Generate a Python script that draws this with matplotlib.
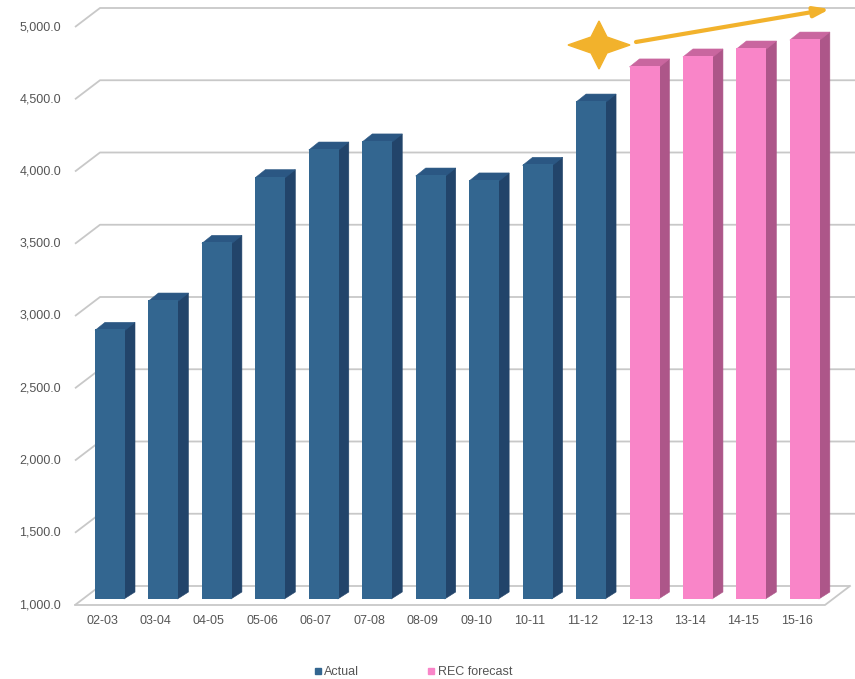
import matplotlib
matplotlib.use("Agg")
import matplotlib.pyplot as plt
from matplotlib.patches import Polygon
from matplotlib.lines import Line2D

plt.rcParams["font.family"] = ["Liberation Sans", "DejaVu Sans"]

# ---- data ----
years = ["02-03", "03-04", "04-05", "05-06", "06-07", "07-08", "08-09",
         "09-10", "10-11", "11-12", "12-13", "13-14", "14-15", "15-16"]
actual = [2866, 3069, 3468, 3923, 4114, 4170, 3934, 3900, 4008, 4446]
forecast = [4689, 4758, 4813, 4875]
yticks = [1000, 1500, 2000, 2500, 3000, 3500, 4000, 4500, 5000]

blue = ("#336690", "#22446a", "#2b5783")   # front, side, top
pink = ("#f985c8", "#ad5689", "#c9669f")

# ---- pixel geometry of the fake 3D look ----
W_PX, H_PX = 855, 679
STEP = 53.45            # px per category
PPU = 72.25 / 500       # px per value unit
BASE_PY = 599           # pixel row of 1000 in bar plane
PX_X = 1 / STEP
PX_Y = 1 / PPU

fig = plt.figure(figsize=(W_PX / 100, H_PX / 100), dpi=100)
ax = fig.add_axes([0, 0, 1, 1])
ax.set_xlim(-110 / STEP, (W_PX - 110) / STEP)
ax.set_ylim(1000 - (H_PX - BASE_PY) * PX_Y, 1000 + BASE_PY * PX_Y)
ax.axis("off")

grid_c = "#c8c8c8"
x_front = (75 - 110) * PX_X
x_back = (100 - 110) * PX_X
x_right = (W_PX - 110) * PX_X
front_dy = 6 * PX_Y
back_dy = 13 * PX_Y

# back wall grid + side diagonals + labels
for t in yticks:
    xr = (850 - 110) * PX_X if t == 1000 else x_right
    ax.plot([x_front, x_back, xr], [t - front_dy, t + back_dy, t + back_dy],
            color=grid_c, lw=1.3, zorder=1, solid_capstyle="butt")
    ax.text((61 - 110) * PX_X, t - front_dy, f"{t:,.1f}", ha="right",
            va="center", fontsize=9, color="#555555")

# floor front edge and right diagonal
xf_end = (825 - 110) * PX_X
ax.plot([x_front, xf_end, (850 - 110) * PX_X],
        [1000 - front_dy, 1000 - front_dy, 1000 + back_dy],
        color=grid_c, lw=1.3, zorder=1)

# bars
bw = 30 * PX_X
dx = 10 * PX_X
dy = 7 * PX_Y
ov = 1 * PX_X
values = actual + forecast
for i, v in enumerate(values):
    c = blue if i < len(actual) else pink
    r = i + bw / 2
    l = i - bw / 2
    ax.add_patch(Polygon([(r - ov, 1000), (r + dx, 1000 + dy), (r + dx, v + dy), (r - ov, v)],
                         closed=True, fc=c[1], ec=c[1], zorder=3, lw=0.4))
    ax.add_patch(Polygon([(l, v - PX_Y), (r, v - PX_Y), (r + dx, v + dy), (l + dx, v + dy)],
                         closed=True, fc=c[2], ec=c[2], zorder=3, lw=0.4))
    ax.bar(i, v - 1000, bottom=1000, width=bw, color=c[0], zorder=4,
           edgecolor="none")

for i, lab in enumerate(years):
    ax.text(i - 8 * PX_X, 1000 - 22 * PX_Y, lab, ha="center", va="center",
            fontsize=9, color="#555555")

# star + arrow annotation (figure pixel fractions)
cx, cy = 599 / W_PX, 1 - 45 / H_PX
sx, sy = 31 / W_PX, 24 / H_PX
ix, iy = 8 / W_PX, 8 / H_PX
star = [(cx - sx, cy), (cx - ix, cy + iy), (cx, cy + sy), (cx + ix, cy + iy),
        (cx + sx, cy), (cx + ix, cy - iy), (cx, cy - sy), (cx - ix, cy - iy)]
fig.patches.append(Polygon(star, closed=True, transform=fig.transFigure,
                           color="#f2b22c", zorder=5))
ax.annotate("", xy=(830 / W_PX, 1 - 9 / H_PX), xycoords="figure fraction",
            xytext=(636 / W_PX, 1 - 42 / H_PX), textcoords="figure fraction",
            arrowprops=dict(arrowstyle="-|>,head_length=0.9,head_width=0.3",
                            color="#f2b22c", lw=3, shrinkA=0, shrinkB=0))

# legend
handles = [Line2D([], [], marker="s", ls="", color=blue[0], markersize=5),
           Line2D([], [], marker="s", ls="", color=pink[0], markersize=5)]
fig.legend(handles, ["Actual", "REC forecast"], loc="center",
           bbox_to_anchor=(413 / W_PX, 1 - 672 / H_PX), ncol=2, frameon=False,
           fontsize=9, handlelength=0.6, handletextpad=0.2, columnspacing=5.5,
           labelcolor="#555555")

fig.savefig("out.png", dpi=100)
